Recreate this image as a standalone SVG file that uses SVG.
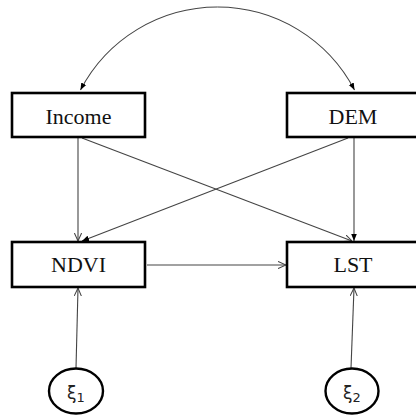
<svg xmlns="http://www.w3.org/2000/svg" width="416" height="416" viewBox="0 0 416 416">
  <style>
    .box { fill: #ffffff; stroke: #000000; stroke-width: 2.6; }
    .lat { fill: #ffffff; stroke: #000000; stroke-width: 2.4; }
    .lbl { font-family: "Liberation Serif", "Times New Roman", serif; font-size: 22px; fill: #111111; text-anchor: middle; }
    .xi { font-family: "DejaVu Sans", "Liberation Sans", sans-serif; font-size: 17px; fill: #222222; text-anchor: middle; }
    .edge { fill: none; stroke: #444444; stroke-width: 1.1; }
  </style>
  <defs>
    <marker id="solid" viewBox="0 0 10 10" refX="10" refY="5" markerWidth="7" markerHeight="7" markerUnits="userSpaceOnUse" orient="auto">
      <path d="M0,1 L10,5 L0,9 z" fill="#000000"/>
    </marker>
    <marker id="open" viewBox="0 0 10 10" refX="10" refY="5" markerWidth="8" markerHeight="8" markerUnits="userSpaceOnUse" orient="auto">
      <path d="M0,0.5 L10,5 L0,9.5" fill="none" stroke="#444444" stroke-width="1.3"/>
    </marker>
  </defs>

  <!-- connectors -->
  <g id="connectors">
    <!-- covariance arc between Income and DEM, drawn as two halves of one circle -->
    <path class="edge" d="M217.5,7 A154.5,154.5 0 0 0 80.5,90" marker-end="url(#solid)"/>
    <path class="edge" d="M217.5,7 A154.5,154.5 0 0 1 354.5,90" marker-end="url(#solid)"/>
    <line class="edge" x1="78" y1="138" x2="78" y2="241" marker-end="url(#open)"/>
    <line class="edge" x1="354" y1="138" x2="354" y2="241" marker-end="url(#solid)"/>
    <line class="edge" x1="82" y1="138" x2="352" y2="241" marker-end="url(#open)"/>
    <line class="edge" x1="348" y1="138" x2="82" y2="241" marker-end="url(#solid)"/>
    <line class="edge" x1="147" y1="265" x2="286" y2="265" marker-end="url(#open)"/>
    <line class="edge" x1="76" y1="368" x2="78" y2="288" marker-end="url(#open)"/>
    <line class="edge" x1="351" y1="368" x2="354" y2="288" marker-end="url(#open)"/>
  </g>

  <g id="income">
    <rect class="box" x="12" y="93" width="133" height="44"/>
    <text class="lbl" x="78.5" y="124">Income</text>
  </g>
  <g id="dem">
    <rect class="box" x="287" y="93" width="133" height="44"/>
    <text class="lbl" x="353" y="124">DEM</text>
  </g>
  <g id="ndvi">
    <rect class="box" x="12" y="242" width="133" height="45"/>
    <text class="lbl" x="78.5" y="272">NDVI</text>
  </g>
  <g id="lst">
    <rect class="box" x="287" y="242" width="133" height="45"/>
    <text class="lbl" x="353" y="272">LST</text>
  </g>
  <g id="xi1">
    <ellipse class="lat" cx="76" cy="391" rx="27" ry="22.5"/>
    <text class="xi" x="76" y="399">ξ<tspan font-size="13" dy="3">1</tspan></text>
  </g>
  <g id="xi2">
    <ellipse class="lat" cx="352" cy="391" rx="26.5" ry="22.5"/>
    <text class="xi" x="352" y="399">ξ<tspan font-size="13" dy="3">2</tspan></text>
  </g>
</svg>
